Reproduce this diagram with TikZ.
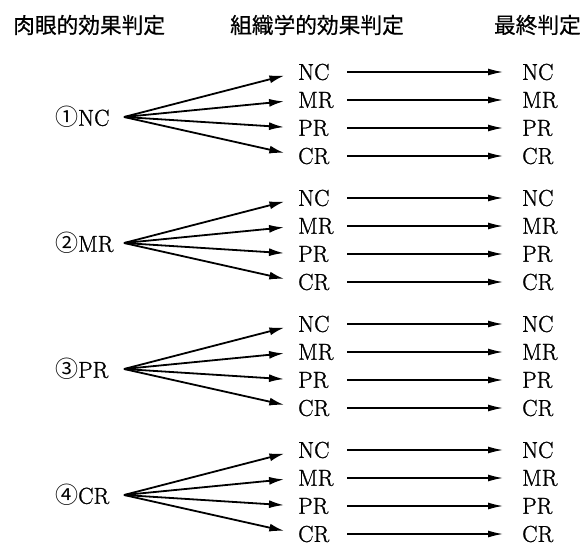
\documentclass[tikz,border=0pt]{standalone}
\usepackage{fontspec}
\newfontfamily\jpfont[FakeBold=0.6]{Noto Sans CJK JP}
\newfontfamily\numfont{Noto Sans CJK JP}
\newfontfamily\labfont[FakeBold=1.2]{Latin Modern Roman}
\usetikzlibrary{arrows.meta}

\begin{document}
\begin{tikzpicture}[x=1pt,y=-1pt,
  lab/.style={inner sep=0pt,anchor=west,font=\labfont\fontsize{23}{23}\selectfont},
  head/.style={inner sep=0pt,font=\jpfont\fontsize{21.7}{22}\selectfont},
  fan/.style={line width=1.8pt,-{Latex[length=15pt,width=8pt]},shorten >=14pt},
  thru/.style={line width=1.4pt,-{Latex[length=15pt,width=7pt]},shorten <=49pt,shorten >=19pt}]
\useasboundingbox (0,0) rectangle (584,546); %page size
\node[head,anchor=west] (h1) at (13,25) {肉眼的効果判定};
\node[head] (h2) at (317,25) {組織学的効果判定};
\node[head,anchor=east] (h3) at (581,25) {最終判定};
\foreach \g/\y/\n/\t in {1/72/①/NC,2/198/②/MR,3/324/③/PR,4/450/④/CR} {
  \node[lab] (l\g) at (55,\y+45) {{\numfont\n}\t};
  \coordinate (o\g) at (124,\y+45);
  \foreach \r/\s in {0/NC,1/MR,2/PR,3/CR} {
    \node[lab] (m\g\r) at (298,\y+28*\r) {\s};
    \node[lab] (f\g\r) at (522,\y+28*\r) {\s};
    \draw[fan] (o\g) -- (m\g\r.west);
    \draw[thru] (m\g\r.west) -- (f\g\r.west);
  }
}
\end{tikzpicture}
\end{document}
